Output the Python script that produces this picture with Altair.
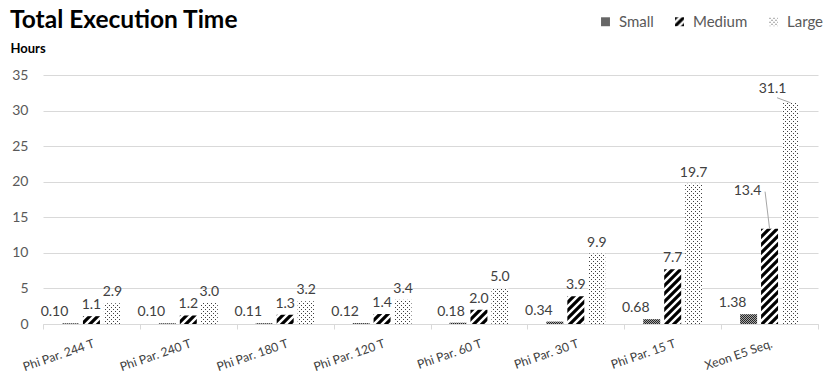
import altair as alt
import pandas as pd
import jinja2

# ---------------- data ----------------
categories = ["Phi Par. 244 T", "Phi Par. 240 T", "Phi Par. 180 T", "Phi Par. 120 T",
              "Phi Par. 60 T", "Phi Par. 30 T", "Phi Par. 15 T", "Xeon E5 Seq."]
series_names = ["Small", "Medium", "Large"]
small = [0.10, 0.10, 0.11, 0.12, 0.18, 0.34, 0.68, 1.38]
medium = [1.1, 1.2, 1.3, 1.4, 2.0, 3.9, 7.7, 13.4]
large = [2.9, 3.0, 3.2, 3.4, 5.0, 9.9, 19.7, 31.1]
y_ticks = [0, 5, 10, 15, 20, 25, 30, 35]

rows = []
for s, vals, fmt in [("Small", small, "{:.2f}"), ("Medium", medium, "{:.1f}"), ("Large", large, "{:.1f}")]:
    for c, v in zip(categories, vals):
        rows.append({"cat": c, "series": s, "value": v, "label": fmt.format(v)})
df = pd.DataFrame(rows)

FONT = "Lato"
# pattern fills (defined in the page), with solid fallbacks
fills = ["url(#pSmall) #595959", "url(#pMedium) #262626", "url(#pLarge) #d0d0d0"]

x_enc = alt.X("cat:N", sort=categories, title=None,
              scale=alt.Scale(paddingInner=0, paddingOuter=0),
              axis=alt.Axis(labelAngle=341, labelFont=FONT, labelFontSize=12.2, labelColor="#404040",
                            domainColor="#d9d9d9", tickColor="#d9d9d9", tickSize=5, tickBand="extent",
                            labelPadding=8, labelOffset=0, grid=False))
xo_enc = alt.XOffset("series:N", sort=series_names,
                     scale=alt.Scale(paddingInner=0.19, paddingOuter=0.905))
y_enc = alt.Y("value:Q", scale=alt.Scale(domain=[0, 35], nice=False),
              axis=alt.Axis(values=y_ticks, title="Hours", titleAngle=0, titleAlign="left",
                            titleBaseline="alphabetic", titleX=-33, titleY=-23, titleFont=FONT,
                            titleFontSize=13, titleFontWeight="bold", titleColor="#000000",
                            labelFont=FONT, labelFontSize=14, labelColor="#595959", labelPadding=15,
                            ticks=False, tickSize=0, domain=False, gridColor="#d9d9d9"))

base = alt.Chart(df).encode(x=x_enc, xOffset=xo_enc, y=y_enc)

bars = base.mark_bar(strokeWidth=0).encode(
    fill=alt.Fill("series:N", sort=series_names,
                  scale=alt.Scale(domain=series_names, range=fills),
                  legend=alt.Legend(title=None, orient="none", direction="horizontal",
                                    legendX=555, legendY=-61, symbolType="square", symbolSize=80,
                                    symbolStrokeWidth=0, labelFont=FONT, labelFontSize=15,
                                    labelColor="#595959", labelOffset=6, columnPadding=18))
)

txt_style = dict(font=FONT, fontSize=14, color="#404040", baseline="middle")

is_p60_small = "(datum.cat == 'Phi Par. 60 T' && datum.series == 'Small')"
is_xe_med = "(datum.cat == 'Xeon E5 Seq.' && datum.series == 'Medium')"
is_xe_large = "(datum.cat == 'Xeon E5 Seq.' && datum.series == 'Large')"

lbl_small = base.mark_text(dx=-16, dy=-11, **txt_style).encode(text="label:N").transform_filter(
    f"datum.series == 'Small' && !{is_p60_small}")
lbl_small2 = base.mark_text(dx=-7, dy=-11, **txt_style).encode(text="label:N").transform_filter(is_p60_small)
lbl_norm = base.mark_text(dx=0, dy=-11, **txt_style).encode(text="label:N").transform_filter(
    f"datum.series != 'Small' && !{is_xe_med} && !{is_xe_large}")
lbl_xm = base.mark_text(dx=-22, dy=-38, **txt_style).encode(text="label:N").transform_filter(is_xe_med)
lbl_xl = base.mark_text(dx=-18, dy=-14, **txt_style).encode(text="label:N").transform_filter(is_xe_large)

# leader lines (bar top -> moved label)
lead_xl = base.mark_rule(color="#a6a6a6", strokeWidth=1, x2Offset=7.5, y2Offset=-5).encode(
    x2=alt.X2("cat:N"), y2=alt.Y2("value:Q")).transform_filter(is_xe_large)
lead_xm = base.mark_rule(color="#a6a6a6", strokeWidth=1, x2Offset=-4.5, y2Offset=-37).encode(
    x2=alt.X2("cat:N"), y2=alt.Y2("value:Q")).transform_filter(is_xe_med)

chart = alt.layer(bars, lead_xl, lead_xm, lbl_small, lbl_small2, lbl_norm, lbl_xm, lbl_xl).properties(
    width=775, height=249,
    title=alt.TitleParams("Total Execution Time", anchor="start", frame="group", font=FONT,
                          fontSize=24.5, fontWeight="bold", color="#000000", dx=-33, offset=-38,
                          baseline="alphabetic"),
    autosize=alt.AutoSizeParams(type="none"),
    padding={"left": 43, "top": 75, "right": 13, "bottom": 57},
    background="white",
).configure_view(stroke=None)

TEMPLATE = jinja2.Template("""<!DOCTYPE html>
<html>
<head>
  <style>
    html, body { overflow: hidden; margin: 0; padding: 0; background: #ffffff; }
    #{{ output_div }}.vega-embed { width: 100%; display: flex; }
    #{{ output_div }}.vega-embed details,
    #{{ output_div }}.vega-embed details summary { position: relative; }
  </style>
  <script type="text/javascript" src="{{ base_url }}/vega@{{ vega_version }}"></script>
  <script type="text/javascript" src="{{ base_url }}/vega-lite@{{ vegalite_version }}"></script>
  <script type="text/javascript" src="{{ base_url }}/vega-embed@{{ vegaembed_version }}"></script>
</head>
<body>
  <svg width="0" height="0" style="position:absolute;left:0;top:0">
    <defs>
      <pattern id="pSmall" width="2" height="2" patternUnits="userSpaceOnUse">
        <rect width="2" height="2" fill="#a6a6a6"/>
        <rect width="1" height="1" fill="#262626"/>
        <rect x="1" y="1" width="1" height="1" fill="#262626"/>
      </pattern>
      <pattern id="pMedium" width="8" height="8" patternUnits="userSpaceOnUse">
        <rect width="8" height="8" fill="#ffffff"/>
        <path d="M-2,2 L2,-2 M0,8 L8,0 M6,10 L10,6" stroke="#000000" stroke-width="3.2"/>
      </pattern>
      <pattern id="pLarge" width="4" height="4" patternUnits="userSpaceOnUse">
        <rect width="4" height="4" fill="#ffffff"/>
        <rect width="1" height="1" fill="#404040"/>
        <rect x="2" y="2" width="1" height="1" fill="#404040"/>
      </pattern>
    </defs>
  </svg>
  <div id="{{ output_div }}"></div>
  <script type="text/javascript">
    (function(vegaEmbed) {
      var spec = {{ spec }};
      var embedOpt = {{ embed_options }};
      function showError(el, error){
          el.innerHTML = ('<div style="color:red;"><p>JavaScript Error: ' + error.message + '</p></div>');
          throw error;
      }
      const el = document.getElementById('{{ output_div }}');
      vegaEmbed("#{{ output_div }}", spec, embedOpt)
        .catch(error => showError(el, error));
    })(vegaEmbed);
  </script>
</body>
</html>
""")

chart.save("out.html", embed_options={"renderer": "svg", "actions": False}, template=TEMPLATE)
